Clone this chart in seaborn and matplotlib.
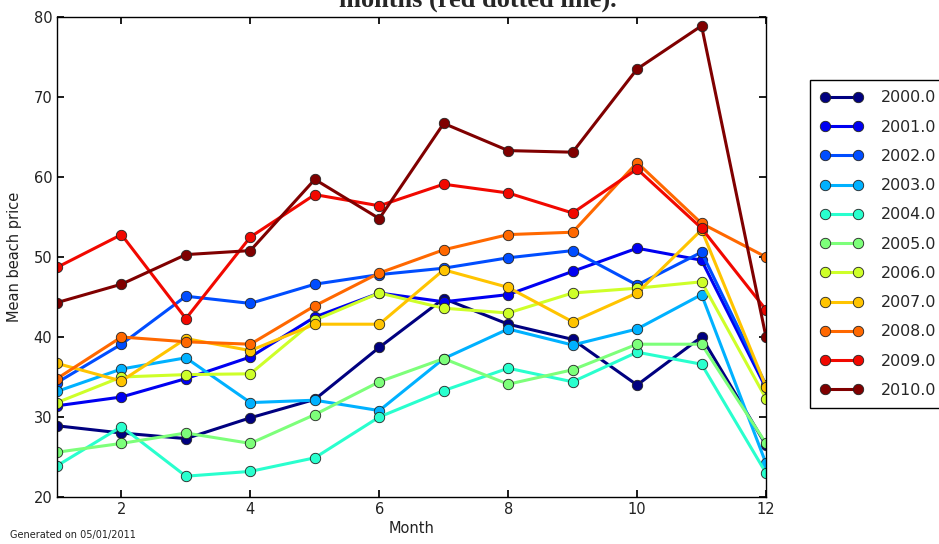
import matplotlib
matplotlib.use("Agg")
import matplotlib.pyplot as plt
import numpy as np
import pandas as pd
import seaborn as sns

# mean beach price per month, one list per year
months = list(range(1, 13))
years = [2000, 2001, 2002, 2003, 2004, 2005, 2006, 2007, 2008, 2009, 2010]
price_2000 = [28.9, 28.0, 27.3, 29.9, 32.2, 38.7, 44.8, 41.6, 39.7, 34.0, 40.0, 26.5]
price_2001 = [31.4, 32.5, 34.8, 37.5, 42.5, 45.5, 44.4, 45.3, 48.2, 51.1, 49.6, 33.6]
price_2002 = [34.3, 39.1, 45.1, 44.2, 46.6, 47.8, 48.6, 49.9, 50.8, 46.5, 50.6, 34.0]
price_2003 = [33.2, 36.0, 37.4, 31.8, 32.1, 30.8, 37.3, 41.0, 39.0, 41.0, 45.3, 24.2]
price_2004 = [23.9, 28.8, 22.6, 23.2, 24.9, 30.0, 33.3, 36.1, 34.4, 38.1, 36.6, 23.0]
price_2005 = [25.6, 26.7, 28.0, 26.7, 30.3, 34.4, 37.3, 34.1, 35.9, 39.1, 39.1, 26.7]
price_2006 = [31.8, 35.0, 35.3, 35.4, 42.1, 45.5, 43.6, 43.0, 45.5, 46.1, 46.9, 32.3]
price_2007 = [36.7, 34.5, 39.8, 38.3, 41.6, 41.6, 48.4, 46.2, 41.9, 45.5, 53.4, 33.8]
price_2008 = [34.8, 40.0, 39.4, 39.1, 43.9, 48.0, 50.9, 52.8, 53.1, 61.8, 54.2, 50.0]
price_2009 = [48.7, 52.8, 42.3, 52.5, 57.8, 56.4, 59.1, 58.0, 55.5, 61.0, 53.6, 43.4]
price_2010 = [44.3, 46.6, 50.3, 50.8, 59.7, 54.8, 66.7, 63.3, 63.1, 73.5, 78.9, 40.0]
all_prices = [price_2000, price_2001, price_2002, price_2003, price_2004, price_2005,
              price_2006, price_2007, price_2008, price_2009, price_2010]
year_labels = [f"{y:.1f}" for y in years]

rows = []
for label, prices in zip(year_labels, all_prices):
    for m, p in zip(months, prices):
        rows.append({"Month": m, "Year": label, "Mean beach price": p})
df = pd.DataFrame(rows)

sns.set_theme(style="ticks", rc={
    "xtick.direction": "in", "ytick.direction": "in",
    "xtick.top": True, "ytick.right": True,
    "xtick.major.size": 5, "ytick.major.size": 5,
    "axes.edgecolor": "black", "axes.linewidth": 1.0,
})
plt.rcParams["font.family"] = ["DejaVu Sans"]

jet = plt.get_cmap("jet")
palette = {lab: jet(i / (len(years) - 1)) for i, lab in enumerate(year_labels)}

fig = plt.figure(figsize=(9.39, 5.44), dpi=100)
ax = fig.add_axes([57 / 939, 47 / 544, 709 / 939, 480 / 544])

sns.lineplot(data=df, x="Month", y="Mean beach price", hue="Year",
             hue_order=year_labels, palette=palette, marker="o",
             markersize=7.5, markeredgecolor="#222222", markeredgewidth=0.6,
             linewidth=2.2, errorbar=None, ax=ax)

ax.set_xlim(1, 12)
ax.set_ylim(20, 80)
ax.set_xticks([2, 4, 6, 8, 10, 12])
ax.set_yticks([20, 30, 40, 50, 60, 70, 80])
ax.tick_params(labelsize=10.5, colors="black", labelcolor="#222222")
ax.set_xlabel("Month", fontsize=10.5, color="#222222")
ax.set_ylabel("Mean beach price", fontsize=10.5, color="#222222")
ax.xaxis.set_label_coords(0.5, -0.051)
ax.yaxis.set_label_coords(-0.05, 0.5)

# legend sits to the right and runs past the figure edge, like the original
handles, labels = ax.get_legend_handles_labels()
leg = ax.legend(handles, labels, loc="upper left",
                bbox_to_anchor=(810 / 939, 1 - 80 / 544),
                bbox_transform=fig.transFigure, numpoints=2, fontsize=11.4,
                frameon=True, fancybox=False, framealpha=1, edgecolor="black",
                handlelength=2.7, handletextpad=1.1, labelspacing=0.9,
                borderpad=0.65, borderaxespad=0)
leg.get_frame().set_linewidth(1.0)

# only the last line of the title is visible in the original, top clipped
fig.text(478 / 939, 1 - 6.5 / 544, "months (red dotted line).", ha="center",
         va="baseline", fontsize=19, fontweight="bold", family="Liberation Serif")
fig.text(10 / 939, 6 / 544, "Generated on 05/01/2011", ha="left", va="baseline",
         fontsize=7, color="#222222")

fig.savefig("out.png", dpi=100)
